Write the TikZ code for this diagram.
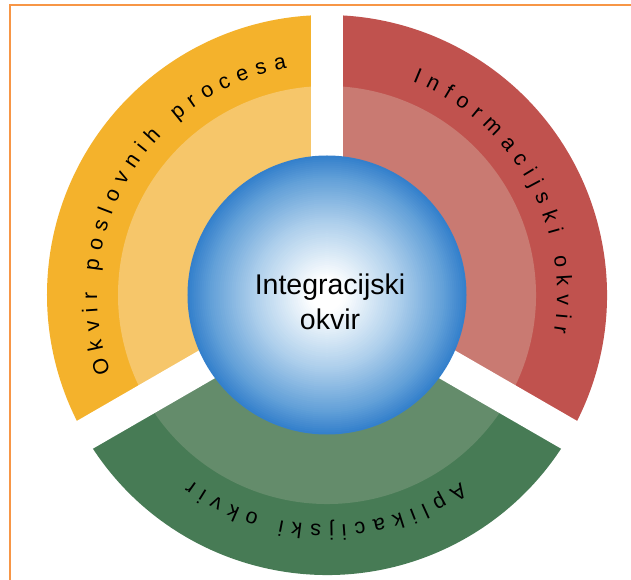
\documentclass[tikz,border=0pt]{standalone}
\usepackage{fontspec}
\setmainfont{Liberation Sans}
\usetikzlibrary{decorations.text}
\definecolor{ydark}{RGB}{244,178,44}
\definecolor{ylight}{RGB}{246,198,106}
\definecolor{rdark}{RGB}{192,82,78}
\definecolor{rlight}{RGB}{201,122,114}
\definecolor{gdark}{RGB}{71,123,85}
\definecolor{glight}{RGB}{100,140,107}
\definecolor{bordercol}{RGB}{247,150,70}
\definecolor{bmid}{RGB}{175,208,236}
\definecolor{bdeep}{RGB}{98,160,216}
\definecolor{bedge}{RGB}{52,128,204}
\tikzset{
  gapline/.style={white, line width=32pt},
  curvetext/.style={decorate, decoration={text along path, text align={fit to path}, text={#1}}},
}
\newcommand{\arcfont}{\fontsize{21.5}{24}\selectfont}
\begin{document}
\begin{tikzpicture}[x=1pt,y=1pt]
\useasboundingbox (-327,-285) rectangle (304,295);
\fill[white] (-327,-285) rectangle (304,295);
\draw[bordercol, line width=2pt] (-317,-300) -- (-317,290) -- (320,290);
% dark outer sectors
\fill[ydark] (0,0) -- (90:280) arc[start angle=90, end angle=210, radius=280] -- cycle;
\fill[rdark] (0,0) -- (-30:280) arc[start angle=-30, end angle=90, radius=280] -- cycle;
\fill[gdark] (0,0) -- (210:280) arc[start angle=210, end angle=330, radius=280] -- cycle;
% light inner sectors
\fill[ylight] (0,0) -- (90:209) arc[start angle=90, end angle=210, radius=209] -- cycle;
\fill[rlight] (0,0) -- (-30:209) arc[start angle=-30, end angle=90, radius=209] -- cycle;
\fill[glight] (0,0) -- (210:209) arc[start angle=210, end angle=330, radius=209] -- cycle;
% gaps
\draw[gapline] (0,0) -- (90:284);
\draw[gapline] (0,0) -- (210:300);
\draw[gapline] (0,0) -- (330:300);
% centre ball (stepped radial gradient)
\foreach \k in {0,...,69}{
  \pgfmathsetmacro{\t}{1-\k/70}
  \ifdim\t pt>0.84pt
    \pgfmathtruncatemacro{\p}{(\t-0.84)/0.16*100}\colorlet{ballc}{bedge!\p!bdeep}
  \else\ifdim\t pt>0.52pt
    \pgfmathtruncatemacro{\p}{(\t-0.52)/0.32*100}\colorlet{ballc}{bdeep!\p!bmid}
  \else\ifdim\t pt>0.12pt
    \pgfmathtruncatemacro{\p}{(\t-0.12)/0.4*100}\colorlet{ballc}{bmid!\p!white}
  \else
    \colorlet{ballc}{white}
  \fi\fi\fi
  \fill[ballc] (0,0) circle ({139.5*\t});
}
\node[inner sep=0pt, align=center, font=\fontsize{28.5}{35}\selectfont] (centre) at (3,-6.5) {Integracijski\\okvir};
% curved labels
\arcfont
\path[curvetext={Okvir poslovnih procesa}] (199.7:230) arc[start angle=199.7, end angle=100, radius=230];
\path[curvetext={Informacijski okvir}] (68.2:230) arc[start angle=68.2, end angle=-9.4, radius=230];
\path[curvetext={Aplikacijski okvir}] (-54.5:230) arc[start angle=-54.5, end angle=-126.1, radius=230];
\end{tikzpicture}
\end{document}
